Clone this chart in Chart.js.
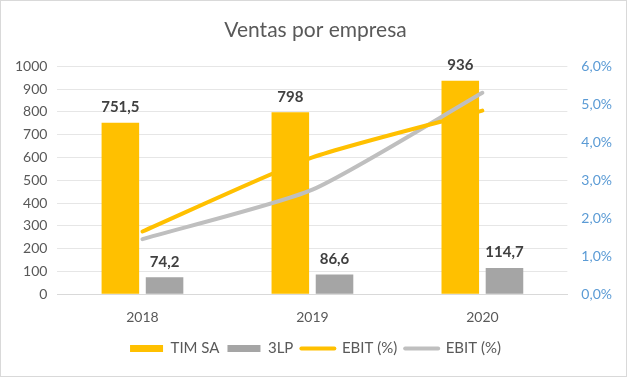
<!DOCTYPE html>
<html>
<head>
<meta charset="utf-8">
<script src="https://cdn.jsdelivr.net/npm/chart.js@4.4.1/dist/chart.umd.min.js"></script>
<style>
  html, body { margin: 0; padding: 0; background: #fff; }
  #marco { width: 625px; height: 375px; border: 1px solid #d9d9d9; }
</style>
</head>
<body>
<div id="marco"><canvas id="graficoVentas" width="625" height="375"></canvas></div>
<script>
// Datos del gráfico
const anios = ['2018', '2019', '2020'];
const ventasTim = [751.5, 798, 936];
const ventas3lp = [74.2, 86.6, 114.7];
const ebitTim = [1.65, 3.6, 4.83];   // en %
const ebit3lp = [1.45, 2.75, 5.3];   // en %
const etiquetasTim = ['751,5', '798', '936'];
const etiquetas3lp = ['74,2', '86,6', '114,7'];

const fuente = 'Lato, "Open Sans", sans-serif';
const gris = '#595959';

// Plugin propio para las etiquetas de valor sobre las barras
const etiquetasBarras = {
    id: 'etiquetasBarras',
    afterDatasetsDraw(chart) {
        const ctx = chart.ctx;
        ctx.save();
        ctx.font = 'bold 15px ' + fuente;
        ctx.fillStyle = '#404040';
        ctx.textAlign = 'center';
        ctx.textBaseline = 'bottom';
        [[0, etiquetasTim], [1, etiquetas3lp]].forEach(([idx, textos]) => {
            const meta = chart.getDatasetMeta(idx);
            meta.data.forEach((barra, i) => {
                ctx.fillText(textos[i], barra.x, barra.y - 8);
            });
        });
        ctx.restore();
    }
};

const ctx = document.getElementById('graficoVentas').getContext('2d');

new Chart(ctx, {
    type: 'bar',
    data: {
        labels: anios,
        datasets: [
            {
                label: 'TIM SA',
                data: ventasTim,
                backgroundColor: '#FFC000',
                yAxisID: 'y',
                order: 1,
                categoryPercentage: 0.52,
                barPercentage: 0.85
            },
            {
                label: '3LP',
                data: ventas3lp,
                backgroundColor: '#A5A5A5',
                yAxisID: 'y',
                order: 1,
                categoryPercentage: 0.52,
                barPercentage: 0.85
            },
            {
                type: 'line',
                label: 'EBIT (%)',
                data: ebitTim,
                borderColor: '#FFC000',
                borderWidth: 4,
                pointRadius: 0,
                tension: 0.2,
                borderCapStyle: 'round',
                yAxisID: 'y1',
                order: 0
            },
            {
                type: 'line',
                label: 'EBIT (%)',
                data: ebit3lp,
                borderColor: '#BFBFBF',
                borderWidth: 4,
                pointRadius: 0,
                tension: 0.2,
                borderCapStyle: 'round',
                yAxisID: 'y1',
                order: 0
            }
        ]
    },
    options: {
        responsive: false,
        animation: false,
        layout: { padding: { left: 4, right: 0, top: 4, bottom: 10 } },
        plugins: {
            title: {
                display: true,
                text: 'Ventas por empresa',
                color: gris,
                font: { family: fuente, size: 21, weight: 'normal' },
                padding: { top: 13, bottom: 23 }
            },
            legend: {
                position: 'bottom',
                labels: {
                    color: gris,
                    font: { family: fuente, size: 15 },
                    usePointStyle: true,
                    pointStyleWidth: 33,
                    boxHeight: 7,
                    padding: 8,
                    generateLabels: (chart) => chart.data.datasets.map((ds, i) => {
                        const esLinea = ds.type === 'line';
                        return {
                            text: ds.label,
                            fillStyle: esLinea ? ds.borderColor : ds.backgroundColor,
                            strokeStyle: esLinea ? ds.borderColor : ds.backgroundColor,
                            lineWidth: esLinea ? 4 : 0,
                            lineCap: 'round',
                            pointStyle: esLinea ? 'line' : 'rect',
                            fontColor: gris,
                            datasetIndex: i,
                            hidden: false
                        };
                    })
                },
                onClick: () => {}
            },
            tooltip: { enabled: false }
        },
        scales: {
            x: {
                grid: { display: false },
                border: { color: '#D9D9D9' },
                ticks: { color: gris, font: { family: fuente, size: 14 }, padding: 7 }
            },
            y: {
                position: 'left',
                min: 0,
                max: 1000,
                ticks: {
                    stepSize: 100,
                    color: gris,
                    font: { family: fuente, size: 14 },
                    padding: 10,
                    callback: (v) => String(v)
                },
                grid: { color: '#E6E6E6', drawTicks: false },
                border: { display: false }
            },
            y1: {
                position: 'right',
                min: 0,
                max: 6,
                ticks: {
                    stepSize: 1,
                    color: '#5B9BD5',
                    font: { family: fuente, size: 14 },
                    padding: 14,
                    callback: (v) => v.toFixed(1).replace('.', ',') + '%'
                },
                grid: { display: false, drawTicks: false },
                border: { display: false }
            }
        }
    },
    plugins: [etiquetasBarras]
});
</script>
</body>
</html>
